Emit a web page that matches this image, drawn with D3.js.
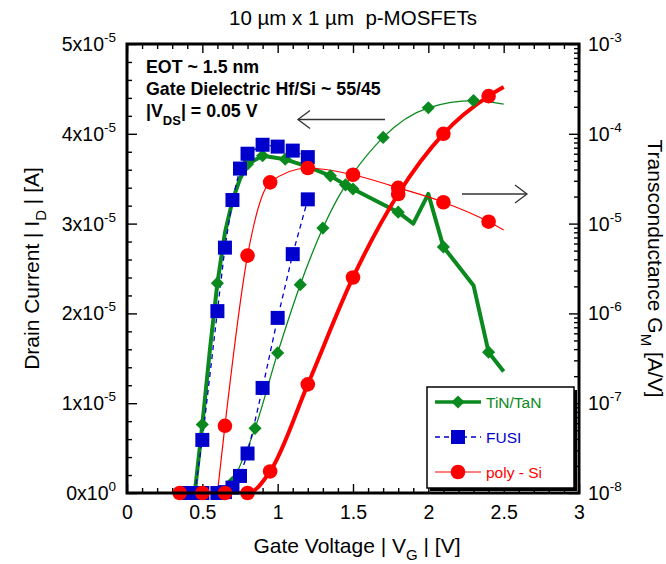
<!DOCTYPE html>
<html><head><meta charset="utf-8">
<script src="https://cdn.jsdelivr.net/npm/d3@7"></script>
<style>
body{margin:0;background:#fff}
svg{display:block}
text{font-family:"Liberation Sans",Arial,Helvetica,sans-serif}
</style>
</head><body>
<svg id="chart" width="666" height="564"></svg>
<script>
// ---------------- data ----------------
// TiN/TaN transconductance (right log axis) - thick green
const tinGmV     = [0.45, 0.5, 0.55, 0.6, 0.65, 0.7, 0.75, 0.8, 0.9, 1.05, 1.2, 1.35, 1.45, 1.5, 1.8, 1.9, 2.0, 2.1, 2.3, 2.4, 2.5];
const tinGm      = [1.0e-8, 5.8e-8, 3.9e-7, 2.17e-6, 7.9e-6, 1.8e-5, 3.16e-5, 4.6e-5, 5.7e-5, 5.2e-5, 4.3e-5, 3.4e-5, 2.7e-5, 2.43e-5, 1.34e-5, 1.0e-5, 2.14e-5, 5.5e-6, 2.05e-6, 3.7e-7, 2.25e-7];
const tinGmMarkV = [0.5, 0.6, 0.7, 0.8, 0.9, 1.05, 1.2, 1.35, 1.45, 1.5, 1.8, 2.1, 2.4];
// TiN/TaN drain current (left axis) - thin green
const tinIdV     = [0.7, 0.85, 1.0, 1.15, 1.3, 1.7, 2.0, 2.3, 2.5];
const tinId      = [0.12e-5, 0.72e-5, 1.56e-5, 2.32e-5, 2.95e-5, 3.96e-5, 4.29e-5, 4.37e-5, 4.33e-5];
const tinIdMarkV = [0.7, 0.85, 1.0, 1.15, 1.3, 1.7, 2.0, 2.3];
// FUSI transconductance (right log axis) - dashed blue
const fusiGmV    = [0.45, 0.5, 0.6, 0.65, 0.7, 0.75, 0.8, 0.9, 1.0, 1.1, 1.2];
const fusiGm     = [1.0e-8, 3.9e-8, 1.06e-6, 5.4e-6, 1.83e-5, 4.1e-5, 6.0e-5, 7.55e-5, 7.2e-5, 6.5e-5, 5.5e-5];
// FUSI drain current (left axis) - dashed blue
const fusiIdV    = [0.4, 0.5, 0.6, 0.65, 0.7, 0.75, 0.8, 0.9, 1.0, 1.1, 1.2];
const fusiId     = [0, 0, 0, 0.01e-5, 0.06e-5, 0.19e-5, 0.44e-5, 1.17e-5, 1.95e-5, 2.66e-5, 3.27e-5];
// poly-Si transconductance (right log axis) - thin red
const polyGmV    = [0.6, 0.65, 0.8, 0.95, 1.2, 1.5, 1.8, 2.1, 2.4, 2.5];
const polyGm     = [1.0e-8, 5.6e-8, 4.4e-6, 2.88e-5, 4.16e-5, 3.5e-5, 2.5e-5, 1.73e-5, 1.05e-5, 8.5e-6];
const polyGmMarkV= [0.65, 0.8, 0.95, 1.2, 1.5, 1.8, 2.1, 2.4];
// poly-Si drain current (left axis) - thick red
const polyIdV    = [0.35, 0.5, 0.65, 0.8, 0.95, 1.2, 1.5, 1.8, 2.1, 2.4, 2.5];
const polyId     = [0, 0, 0, 0, 0.24e-5, 1.21e-5, 2.40e-5, 3.33e-5, 4.0e-5, 4.42e-5, 4.52e-5];
const polyIdMarkV= [0.35, 0.5, 0.65, 0.8, 0.95, 1.2, 1.5, 1.8, 2.1, 2.4];

// ticks / labels
const xTicks      = [0, 0.5, 1, 1.5, 2, 2.5, 3];
const xTickLabels = ["0", "0.5", "1", "1.5", "2", "2.5", "3"];
const leftTicks   = [0, 1e-5, 2e-5, 3e-5, 4e-5, 5e-5];
const leftMant    = ["0", "1", "2", "3", "4", "5"];
const leftExp     = ["0", "-5", "-5", "-5", "-5", "-5"];
const rightTicks  = [1e-8, 1e-7, 1e-6, 1e-5, 1e-4, 1e-3];
const rightExp    = ["-8", "-7", "-6", "-5", "-4", "-3"];
const legendNames = ["TiN/TaN", "FUSI", "poly - Si"];
const titleText   = "10 \u00b5m x 1 \u00b5m  p-MOSFETs";
const noteLines   = ["EOT ~ 1.5 nm", "Gate Dielectric Hf/Si ~ 55/45"];

// ---------------- layout ----------------
const L = 127, R = 579, T = 44, B = 493;
const GREEN = "#0a8a1e", BLUE = "#0000cc", RED = "#ff0000";
const TICKFS = 19.5, SUPFS = 13.5;

const svg = d3.select("#chart");
const x  = d3.scaleLinear().domain([0, 3]).range([L, R]);
const yL = d3.scaleLinear().domain([0, 5e-5]).range([B, T]);
const yR = d3.scaleLog().domain([1e-8, 1e-3]).range([B, T]);

svg.append("defs").append("clipPath").attr("id", "clip")
  .append("rect").attr("x", L).attr("y", T).attr("width", R - L).attr("height", B - T);

// ---------------- axes ----------------
const minorX = d3.range(0, 31).map(i => i / 10).filter(v => Math.abs(v * 2 - Math.round(v * 2)) > 1e-6);
const minorL = d3.range(0, 26).map(i => i * 0.2e-5).filter((v, i) => i % 5 !== 0);
const minorR = [];
for (let e = -8; e < -3; e++) for (let k = 2; k <= 9; k++) minorR.push(k * Math.pow(10, e));

function styleAxis(g) {
  g.select(".domain").remove();
  g.selectAll(".tick line").attr("stroke", "#000").attr("stroke-width", 1.4);
}
// bottom
svg.append("g").attr("transform", `translate(0,${B})`)
  .call(d3.axisBottom(x).tickValues(xTicks).tickSize(-9).tickPadding(12).tickFormat((d, i) => xTickLabels[i]))
  .call(styleAxis)
  .call(g => g.selectAll("text").attr("font-size", TICKFS).attr("fill", "#000").attr("font-family", "Liberation Sans, Arial, sans-serif"));
svg.append("g").attr("transform", `translate(0,${B})`)
  .call(d3.axisBottom(x).tickValues(minorX).tickSize(-5).tickFormat("")).call(styleAxis);
// top
svg.append("g").attr("transform", `translate(0,${T})`)
  .call(d3.axisTop(x).tickValues(xTicks).tickSize(-9).tickFormat("")).call(styleAxis);
svg.append("g").attr("transform", `translate(0,${T})`)
  .call(d3.axisTop(x).tickValues(minorX).tickSize(-5).tickFormat("")).call(styleAxis);
// left
svg.append("g").attr("transform", `translate(${L},0)`)
  .call(d3.axisLeft(yL).tickValues(leftTicks).tickSize(-10).tickFormat("")).call(styleAxis);
svg.append("g").attr("transform", `translate(${L},0)`)
  .call(d3.axisLeft(yL).tickValues(minorL).tickSize(-5).tickFormat("")).call(styleAxis);
// right
svg.append("g").attr("transform", `translate(${R},0)`)
  .call(d3.axisRight(yR).tickValues(rightTicks).tickSize(-10).tickFormat("")).call(styleAxis);
svg.append("g").attr("transform", `translate(${R},0)`)
  .call(d3.axisRight(yR).tickValues(minorR).tickSize(-5).tickFormat("")).call(styleAxis);

// left tick labels with superscripts
leftTicks.forEach((v, i) => {
  const t = svg.append("text").attr("x", L - 11).attr("y", yL(v) + 7)
    .attr("text-anchor", "end").attr("font-size", TICKFS).attr("fill", "#000");
  t.append("tspan").text(leftMant[i] + "x10");
  t.append("tspan").attr("dy", -9).attr("font-size", SUPFS).text(leftExp[i]);
});
// right tick labels
rightTicks.forEach((v, i) => {
  const t = svg.append("text").attr("x", R + 9).attr("y", yR(v) + 7)
    .attr("text-anchor", "start").attr("font-size", TICKFS).attr("fill", "#000");
  t.append("tspan").text("10");
  t.append("tspan").attr("dy", -9).attr("font-size", SUPFS).text(rightExp[i]);
});

// ---------------- series ----------------
const plot = svg.append("g").attr("clip-path", "url(#clip)");
function zip(vs, ys) { return vs.map((v, i) => [v, ys[i]]); }
function drawLine(pts, yScale, opts) {
  const line = d3.line().x(d => x(d[0])).y(d => yScale(d[1])).curve(opts.curve || d3.curveLinear);
  plot.append("path").datum(pts).attr("d", line).attr("fill", "none")
    .attr("stroke", opts.color).attr("stroke-width", opts.width)
    .attr("stroke-dasharray", opts.dash || null)
    .attr("stroke-linejoin", "round").attr("stroke-linecap", "butt");
}
function markPts(pts, markV) {
  if (!markV) return pts;
  return pts.filter(p => markV.some(m => Math.abs(m - p[0]) < 1e-9));
}
function diamonds(pts, yScale, color) {
  svg.append("g").selectAll("path").data(pts).join("path")
    .attr("d", d3.symbol(d3.symbolDiamond2, 110)())
    .attr("transform", d => `translate(${x(d[0])},${yScale(d[1])})`)
    .attr("fill", color);
}
function squares(pts, yScale, color) {
  const s = 14;
  svg.append("g").selectAll("rect").data(pts).join("rect")
    .attr("x", d => x(d[0]) - s / 2).attr("y", d => yScale(d[1]) - s / 2)
    .attr("width", s).attr("height", s).attr("fill", color);
}
function circles(pts, yScale, color) {
  svg.append("g").selectAll("circle").data(pts).join("circle")
    .attr("cx", d => x(d[0])).attr("cy", d => yScale(d[1])).attr("r", 7.3).attr("fill", color);
}

// TiN/TaN
const tinGmPts = zip(tinGmV, tinGm), tinIdPts = zip(tinIdV, tinId);
drawLine(tinGmPts, yR, { color: GREEN, width: 4 });
diamonds(markPts(tinGmPts, tinGmMarkV), yR, GREEN);
drawLine(tinIdPts, yL, { color: GREEN, width: 1.3, curve: d3.curveMonotoneX });
diamonds(markPts(tinIdPts, tinIdMarkV), yL, GREEN);
// FUSI
const fusiGmPts = zip(fusiGmV, fusiGm), fusiIdPts = zip(fusiIdV, fusiId);
drawLine(fusiGmPts, yR, { color: BLUE, width: 1.3, dash: "5,4" });
drawLine(fusiIdPts, yL, { color: BLUE, width: 1.3, dash: "5,4" });
squares(fusiGmPts, yR, BLUE);
squares(fusiIdPts, yL, BLUE);
// poly-Si
const polyGmPts = zip(polyGmV, polyGm), polyIdPts = zip(polyIdV, polyId);
drawLine(polyGmPts, yR, { color: RED, width: 1.2, curve: d3.curveMonotoneX });
drawLine(polyIdPts, yL, { color: RED, width: 4, curve: d3.curveMonotoneX });
circles(markPts(polyGmPts, polyGmMarkV), yR, RED);
circles(markPts(polyIdPts, polyIdMarkV), yL, RED);

// ---------------- frame ----------------
svg.append("rect").attr("x", L).attr("y", T).attr("width", R - L).attr("height", B - T)
  .attr("fill", "none").attr("stroke", "#000").attr("stroke-width", 3);

// ---------------- texts ----------------
svg.append("text").attr("x", (L + R) / 2).attr("y", 25).attr("text-anchor", "middle")
  .attr("font-size", 20.5).style("white-space", "pre").text(titleText);

const xt = svg.append("text").attr("x", (L + R) / 2 + 4).attr("y", 553).attr("text-anchor", "middle").attr("font-size", 21);
xt.append("tspan").text("Gate Voltage | V");
xt.append("tspan").attr("dy", 7).attr("font-size", 15).text("G");
xt.append("tspan").attr("dy", -7).text(" | [V]");

const ylt = svg.append("text").attr("transform", `translate(39,${(T + B) / 2}) rotate(-90)`)
  .attr("text-anchor", "middle").attr("font-size", 21);
ylt.append("tspan").text("Drain Current | I");
ylt.append("tspan").attr("dy", 7).attr("font-size", 15).text("D");
ylt.append("tspan").attr("dy", -7).text(" | [A]");

const yrt = svg.append("text").attr("transform", `translate(648,${(T + B) / 2}) rotate(90)`)
  .attr("text-anchor", "middle").attr("font-size", 21);
yrt.append("tspan").text("Transconductance G");
yrt.append("tspan").attr("dy", 7).attr("font-size", 15).text("M");
yrt.append("tspan").attr("dy", -7).text(" [A/V]");

// annotation
noteLines.forEach((s, i) => {
  svg.append("text").attr("x", 146).attr("y", 73 + i * 22).attr("font-size", 17.8)
    .attr("font-weight", "bold").text(s);
});
const vds = svg.append("text").attr("x", 146).attr("y", 117).attr("font-size", 17.8).attr("font-weight", "bold");
vds.append("tspan").text("|V");
vds.append("tspan").attr("dy", 8).attr("font-size", 13).text("DS");
vds.append("tspan").attr("dy", -8).text("| = 0.05 V");

// arrows
function arrow(x1, x2, y, dir) {
  svg.append("line").attr("x1", x1).attr("x2", x2).attr("y1", y).attr("y2", y)
    .attr("stroke", "#333").attr("stroke-width", 1.3);
  svg.append("path").attr("d", `M${x2 - dir * 12},${y - 9} L${x2},${y} L${x2 - dir * 12},${y + 9}`)
    .attr("fill", "none").attr("stroke", "#333").attr("stroke-width", 1.3);
}
arrow(385, 298, 119.5, -1);
arrow(462, 527, 194, 1);

// ---------------- legend ----------------
const lg = { x: 427, y: 387, w: 147, h: 101 };
svg.append("rect").attr("x", lg.x + 3).attr("y", lg.y + 3).attr("width", lg.w).attr("height", lg.h).attr("fill", "#000");
svg.append("rect").attr("x", lg.x).attr("y", lg.y).attr("width", lg.w).attr("height", lg.h)
  .attr("fill", "#fff").attr("stroke", "#000").attr("stroke-width", 1.5);
const legendStyle = [
  { color: GREEN, width: 3.5, dash: null, mark: "diamond" },
  { color: BLUE, width: 1.5, dash: "5,4", mark: "square" },
  { color: RED, width: 1.2, dash: null, mark: "circle" }
];
legendNames.forEach((name, i) => {
  const cy = 402 + i * 35, st = legendStyle[i];
  svg.append("line").attr("x1", 435).attr("x2", 481).attr("y1", cy).attr("y2", cy)
    .attr("stroke", st.color).attr("stroke-width", st.width).attr("stroke-dasharray", st.dash);
  if (st.mark === "diamond") diamonds([[x.invert(458), 0]], () => cy, st.color);
  if (st.mark === "square") squares([[x.invert(458), 0]], () => cy, st.color);
  if (st.mark === "circle") circles([[x.invert(458), 0]], () => cy, st.color);
  svg.append("text").attr("x", 486).attr("y", cy + 5.5).attr("font-size", 15.5).attr("fill", st.color).text(name);
});
</script>
</body></html>
